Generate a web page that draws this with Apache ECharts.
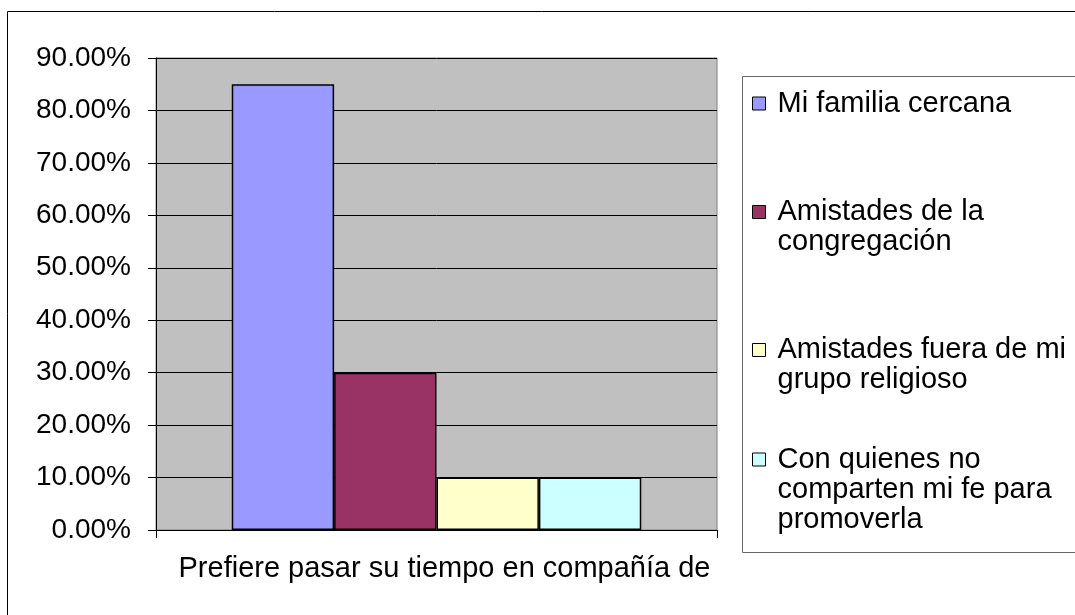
<!DOCTYPE html>
<html>
<head>
<meta charset="utf-8">
<title>Prefiere pasar su tiempo en compañía de</title>
<script src="https://cdn.jsdelivr.net/npm/echarts@6/dist/echarts.min.js"></script>
<style>
    html, body { margin: 0; padding: 0; background: #fff; }
    #chart { width: 1075px; height: 615px; }
</style>
</head>
<body>
<div id="chart"></div>
<script>
    'use strict'

    var categories = ['Prefiere pasar su tiempo en compañía de'];
    var seriesNames = [
        'Mi familia cercana',
        'Amistades de la congregación',
        'Amistades fuera de mi grupo religioso',
        'Con quienes no comparten mi fe para promoverla'
    ];
    var seriesValues = [0.85, 0.30, 0.10, 0.10];
    var colors = ['#9999FF', '#993366', '#FFFFCC', '#CCFFFF'];

    // legend layout: top of each item and how many lines its text wraps to
    var legendTops = [88.5, 167, 305, 384.5];
    var legendLines = [1, 2, 2, 3];

    var font = '"Liberation Sans", Arial, sans-serif';

    var series = seriesNames.map(function (name, i) {
        return {
            name: name,
            type: 'bar',
            barGap: '0%',
            barCategoryGap: '27%',
            data: [seriesValues[i]],
            itemStyle: {
                color: colors[i],
                borderColor: '#000',
                borderWidth: 1.5
            }
        };
    });

    // one legend per item so the marker sits on the first text line (Excel style)
    var legends = seriesNames.map(function (name, i) {
        var lead = new Array(legendLines[i]).join('\n');
        return {
            orient: 'vertical',
            left: 752,
            top: legendTops[i],
            padding: 0,
            icon: 'rect',
            itemWidth: 13,
            itemHeight: 13,
            selectedMode: false,
            data: [name],
            formatter: function (n) {
                return lead + n;
            },
            itemStyle: {
                borderColor: '#000',
                borderWidth: 1
            },
            textStyle: {
                fontFamily: font,
                fontSize: 29,
                color: '#000',
                lineHeight: 30,
                width: 300,
                overflow: 'break',
                padding: [0, 0, 0, 7]
            }
        };
    });

    var chart = document.getElementById('chart');
    var barChart = echarts.init(chart);
    var option = {
        animation: false,
        backgroundColor: '#fff',
        color: colors,
        grid: {
            left: 156,
            right: 358,
            top: 58,
            bottom: 85,
            show: true,
            backgroundColor: '#C0C0C0',
            borderColor: '#808080',
            borderWidth: 1
        },
        xAxis: {
            type: 'category',
            data: categories,
            axisLine: {
                lineStyle: {
                    color: '#000',
                    width: 1
                }
            },
            axisTick: {
                show: true,
                length: 8,
                lineStyle: {
                    color: '#000'
                }
            },
            axisLabel: {
                fontFamily: font,
                fontSize: 29,
                color: '#000',
                margin: 24,
                padding: [0, 0, 0, 16]
            }
        },
        yAxis: {
            type: 'value',
            min: 0,
            max: 0.9,
            interval: 0.1,
            axisLine: {
                show: true,
                lineStyle: {
                    color: '#000',
                    width: 1
                }
            },
            axisTick: {
                show: true,
                length: 8,
                lineStyle: {
                    color: '#000'
                }
            },
            splitLine: {
                lineStyle: {
                    color: '#000',
                    width: 1
                }
            },
            axisLabel: {
                fontFamily: font,
                fontSize: 28,
                color: '#000',
                margin: 25,
                formatter: function (v) {
                    return (v * 100).toFixed(2) + '%';
                }
            }
        },
        legend: legends,
        graphic: [{
            type: 'rect',
            shape: { x: 7.5, y: 11.5, width: 1200, height: 800 },
            style: { fill: 'none', stroke: '#000', lineWidth: 1 },
            z: -1
        }, {
            type: 'rect',
            shape: { x: 742.5, y: 76.5, width: 500, height: 476 },
            style: { fill: 'none', stroke: '#666', lineWidth: 1 },
            z: -1
        }],
        series: series
    };
    barChart.setOption(option);
    window.addEventListener('resize', function () {
        barChart.resize();
    })
</script>
</body>
</html>
